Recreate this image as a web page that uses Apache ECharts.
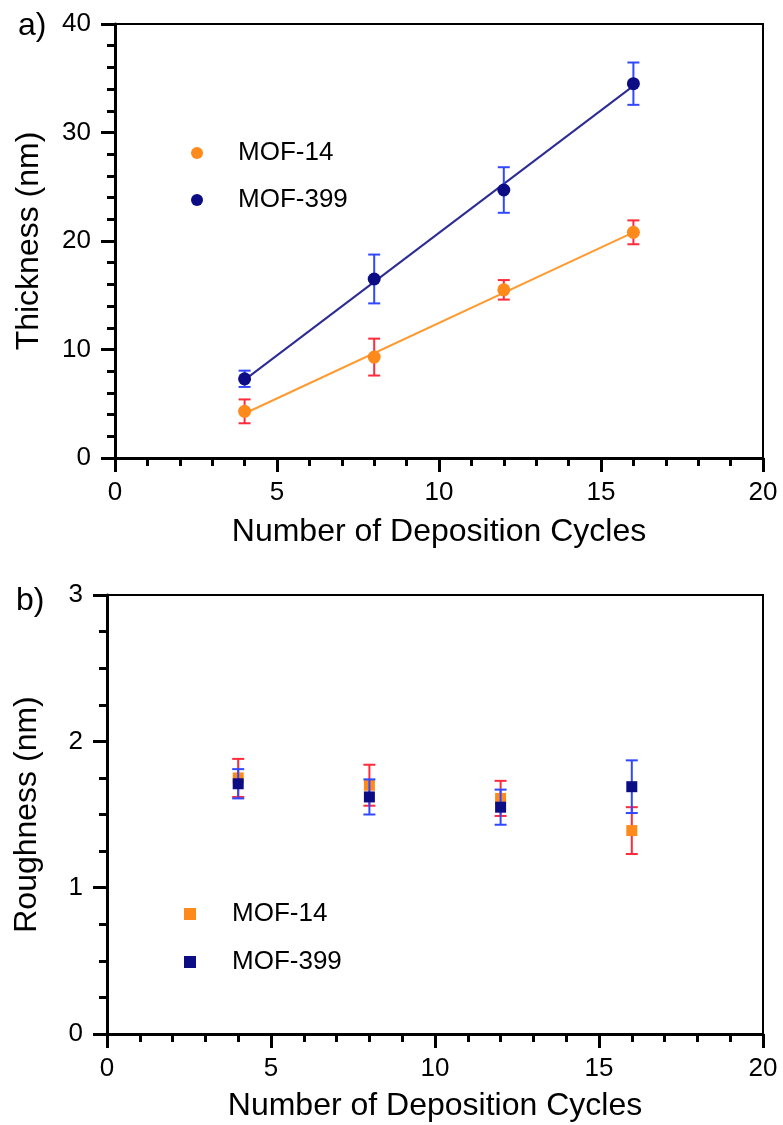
<!DOCTYPE html>
<html>
<head>
<meta charset="utf-8">
<script src="https://cdn.jsdelivr.net/npm/echarts@6/dist/echarts.min.js"></script>
<style>
html,body{margin:0;padding:0;background:#fff;}
#chart{width:783px;height:1125px;}
</style>
</head>
<body>
<div id="chart"></div>
<script>
// ---- data ----
const cycles = [4, 8, 12, 16];
const thickMOF14 = [4.3, 9.3, 15.5, 20.8];
const thickMOF14Err = [1.1, 1.7, 0.9, 1.1];
const thickMOF399 = [7.3, 16.5, 24.7, 34.5];
const thickMOF399Err = [0.75, 2.25, 2.1, 1.95];
const fitX = [4, 16];
const fitMOF14 = [4.1, 20.8];
const fitMOF399 = [7.2, 34.3];
const roughMOF14 = [1.75, 1.70, 1.61, 1.39];
const roughMOF14Err = [0.13, 0.14, 0.12, 0.16];
const roughMOF399 = [1.71, 1.62, 1.55, 1.69];
const roughMOF399Err = [0.10, 0.12, 0.12, 0.18];
const xTicks = [0, 5, 10, 15, 20];
const yTicksA = [0, 10, 20, 30, 40];
const yTicksB = [0, 1, 2, 3];

const FONT = '"Liberation Sans", Arial, Helvetica, sans-serif';
const ORANGE = '#ff8a1c';
const NAVY = '#0c0c84';
const ORANGE_LINE = '#ff9a30';
const NAVY_LINE = '#2c2c94';
const RED_ERR = '#ff2b3c';
const BLUE_ERR = '#3048ff';

function pts(xs, ys) { return xs.map((x, i) => [x, ys[i]]); }
function errPts(xs, ys, es) { return xs.map((x, i) => [x, ys[i] - es[i], ys[i] + es[i]]); }

function errRender(color) {
  return function (params, api) {
    const x = api.value(0), lo = api.value(1), hi = api.value(2);
    const p1 = api.coord([x, lo]);
    const p2 = api.coord([x, hi]);
    const w = 6;
    const st = { stroke: color, lineWidth: 2 };
    return {
      type: 'group',
      children: [
        { type: 'line', shape: { x1: p1[0], y1: p1[1], x2: p2[0], y2: p2[1] }, style: st },
        { type: 'line', shape: { x1: p1[0] - w, y1: p1[1], x2: p1[0] + w, y2: p1[1] }, style: st },
        { type: 'line', shape: { x1: p2[0] - w, y1: p2[1], x2: p2[0] + w, y2: p2[1] }, style: st }
      ]
    };
  };
}

function xAxisDef(gridIndex, nameGap) {
  return {
    gridIndex: gridIndex, type: 'value', min: 0, max: 20, interval: 5,
    name: 'Number of Deposition Cycles', nameLocation: 'middle', nameGap: nameGap,
    nameTextStyle: { fontFamily: FONT, fontSize: 32, color: '#000' },
    axisLine: { show: true, onZero: false, lineStyle: { color: '#000', width: 3 } },
    axisTick: { show: true, inside: false, length: 14, lineStyle: { color: '#000', width: 3 } },
    minorTick: { show: true, splitNumber: 5, length: 8, lineStyle: { color: '#000', width: 3 } },
    axisLabel: { fontFamily: FONT, fontSize: 26, color: '#000', margin: 22,
      formatter: v => xTicks.indexOf(v) >= 0 ? String(v) : '' },
    splitLine: { show: false }, minorSplitLine: { show: false }
  };
}
function yAxisDef(gridIndex, name, max, interval, minorSplit, nameGap, ticks) {
  return {
    gridIndex: gridIndex, type: 'value', min: 0, max: max, interval: interval,
    name: name, nameLocation: 'middle', nameGap: nameGap,
    nameTextStyle: { fontFamily: FONT, fontSize: 32, color: '#000' },
    axisLine: { show: true, onZero: false, lineStyle: { color: '#000', width: 3 } },
    axisTick: { show: true, inside: false, length: 14, lineStyle: { color: '#000', width: 3 } },
    minorTick: { show: true, splitNumber: minorSplit, length: 8, lineStyle: { color: '#000', width: 3 } },
    axisLabel: { fontFamily: FONT, fontSize: 26, color: '#000', margin: 24,
      formatter: v => ticks.indexOf(v) >= 0 ? String(v) : '' },
    splitLine: { show: false }, minorSplitLine: { show: false }
  };
}

const chart = echarts.init(document.getElementById('chart'), null, { renderer: 'canvas' });
chart.setOption({
  backgroundColor: '#fff',
  animation: false,
  graphic: [
    { type: 'text', left: 18, top: 10, style: { text: 'a)', fontFamily: FONT, fontSize: 32, fill: '#000' } },
    { type: 'text', left: 16, top: 585, style: { text: 'b)', fontFamily: FONT, fontSize: 32, fill: '#000' } }
  ],
  grid: [
    { left: 115, top: 24, width: 648, height: 434, show: true, borderColor: '#000', borderWidth: 2, backgroundColor: 'transparent' },
    { left: 107, top: 595, width: 656, height: 439, show: true, borderColor: '#000', borderWidth: 2, backgroundColor: 'transparent' }
  ],
  xAxis: [xAxisDef(0, 58), xAxisDef(1, 56)],
  yAxis: [
    yAxisDef(0, 'Thickness (nm)', 40, 10, 5, 70, yTicksA),
    yAxisDef(1, 'Roughness (nm)', 3, 1, 4, 64, yTicksB)
  ],
  legend: [
    {
      orient: 'vertical', left: 186, top: 135, itemWidth: 12, itemHeight: 12, itemGap: 21,
      selectedMode: false,
      textStyle: { fontFamily: FONT, fontSize: 26, color: '#000', lineHeight: 26, padding: [0, 0, 0, 30] },
      data: [{ name: 'MOF-14', icon: 'circle', itemStyle: { color: ORANGE, opacity: 1 } },
             { name: 'MOF-399', icon: 'circle', itemStyle: { color: NAVY, opacity: 1 } }]
    },
    {
      orient: 'vertical', left: 179, top: 896, itemWidth: 12, itemHeight: 12, itemGap: 22,
      selectedMode: false,
      textStyle: { fontFamily: FONT, fontSize: 26, color: '#000', lineHeight: 26, padding: [0, 0, 0, 31] },
      data: [{ name: 'MOF-14', icon: 'rect', itemStyle: { color: ORANGE, opacity: 1 } },
             { name: 'MOF-399', icon: 'rect', itemStyle: { color: NAVY, opacity: 1 } }]
    }
  ],
  series: [
    // ---- panel a ----
    { type: 'line', xAxisIndex: 0, yAxisIndex: 0, data: pts(fitX, fitMOF14), showSymbol: false,
      lineStyle: { color: ORANGE_LINE, width: 2 }, z: 2, silent: true, legendHoverLink: false },
    { type: 'line', xAxisIndex: 0, yAxisIndex: 0, data: pts(fitX, fitMOF399), showSymbol: false,
      lineStyle: { color: NAVY_LINE, width: 2 }, z: 2, silent: true, legendHoverLink: false },
    { type: 'custom', xAxisIndex: 0, yAxisIndex: 0, renderItem: errRender(RED_ERR),
      data: errPts(cycles, thickMOF14, thickMOF14Err), encode: { x: 0, y: [1, 2] }, z: 3 },
    { type: 'custom', xAxisIndex: 0, yAxisIndex: 0, renderItem: errRender(BLUE_ERR),
      data: errPts(cycles, thickMOF399, thickMOF399Err), encode: { x: 0, y: [1, 2] }, z: 3 },
    { name: 'MOF-14', type: 'scatter', xAxisIndex: 0, yAxisIndex: 0, symbol: 'circle', symbolSize: 13,
      data: pts(cycles, thickMOF14), itemStyle: { color: ORANGE, opacity: 1 }, z: 4 },
    { name: 'MOF-399', type: 'scatter', xAxisIndex: 0, yAxisIndex: 0, symbol: 'circle', symbolSize: 13,
      data: pts(cycles, thickMOF399), itemStyle: { color: NAVY, opacity: 1 }, z: 4 },
    // ---- panel b ----
    { type: 'custom', xAxisIndex: 1, yAxisIndex: 1, renderItem: errRender(RED_ERR),
      data: errPts(cycles, roughMOF14, roughMOF14Err), encode: { x: 0, y: [1, 2] }, z: 3 },
    { name: 'MOF-14', type: 'scatter', xAxisIndex: 1, yAxisIndex: 1, symbol: 'rect', symbolSize: 11,
      data: pts(cycles, roughMOF14), itemStyle: { color: ORANGE, opacity: 1 }, z: 4 },
    { type: 'custom', xAxisIndex: 1, yAxisIndex: 1, renderItem: errRender(BLUE_ERR),
      data: errPts(cycles, roughMOF399, roughMOF399Err), encode: { x: 0, y: [1, 2] }, z: 5 },
    { name: 'MOF-399', type: 'scatter', xAxisIndex: 1, yAxisIndex: 1, symbol: 'rect', symbolSize: 11,
      data: pts(cycles, roughMOF399), itemStyle: { color: NAVY, opacity: 1 }, z: 6 }
  ]
});
</script>
</body>
</html>
